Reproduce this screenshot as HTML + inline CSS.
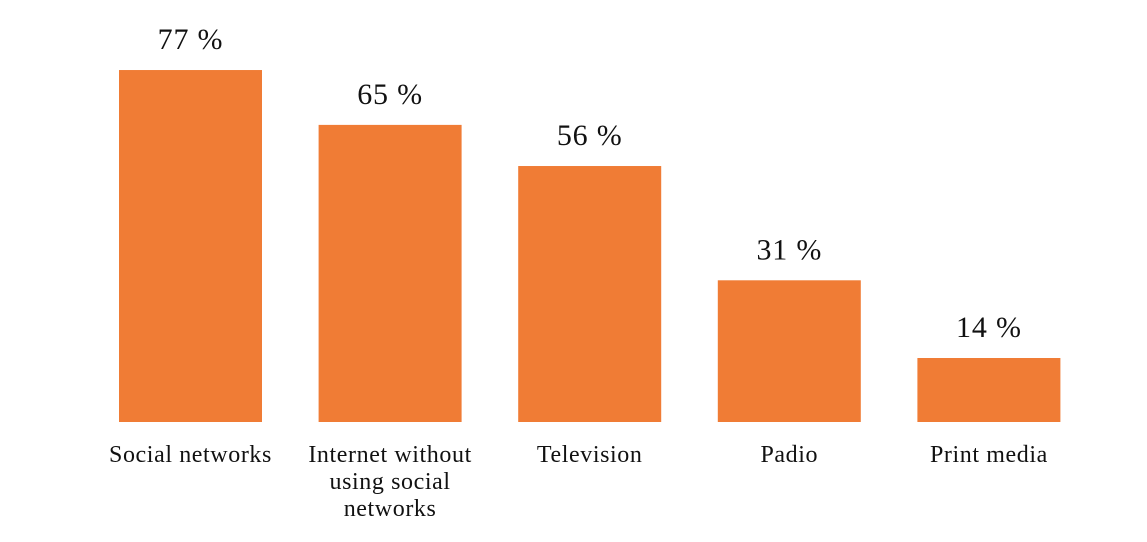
<!DOCTYPE html>
<html><head><meta charset="utf-8"><style>
html,body{margin:0;padding:0;background:#fff}
svg text{font-family:"Liberation Serif",serif;fill:#111}
</style></head><body>
<svg width="1147" height="537">
<g id="bars"></g>
</svg>
<script>
const categories=[["Social networks"],["Internet without","using social","networks"],["Television"],["Padio"],["Print media"]];
const values=[77,65,56,31,14];
const valueLabels=["77 %","65 %","56 %","31 %","14 %"];
const baseY=422, pxPer=4.571, x0=119, step=199.6, bw=143;
function y(v){return baseY-v*pxPer;}
const g=document.getElementById('bars');
const NS="http://www.w3.org/2000/svg";
values.forEach((v,i)=>{
  const x=x0+i*step;
  const r=document.createElementNS(NS,'rect');
  
  
  r.setAttribute('x',x);r.setAttribute('y',y(v));r.setAttribute('width',bw);r.setAttribute('height',baseY-y(v));
  r.setAttribute('fill','#F07C35');
  g.appendChild(r);
  const t=document.createElementNS(NS,'text');
  
  
  t.setAttribute('x',x+bw/2);t.setAttribute('y',y(v)-21);t.setAttribute('text-anchor','middle');t.setAttribute('font-size','30');t.setAttribute('letter-spacing','0.8');
  t.textContent=valueLabels[i];
  g.appendChild(t);
  categories[i].forEach((line,j)=>{
    const c=document.createElementNS(NS,'text');
    
    
    c.setAttribute('x',x+bw/2);c.setAttribute('y',462+j*27);c.setAttribute('text-anchor','middle');c.setAttribute('font-size','24');c.setAttribute('letter-spacing','0.6');
    c.textContent=line;
    g.appendChild(c);
  });
});
</script>
</body></html>
